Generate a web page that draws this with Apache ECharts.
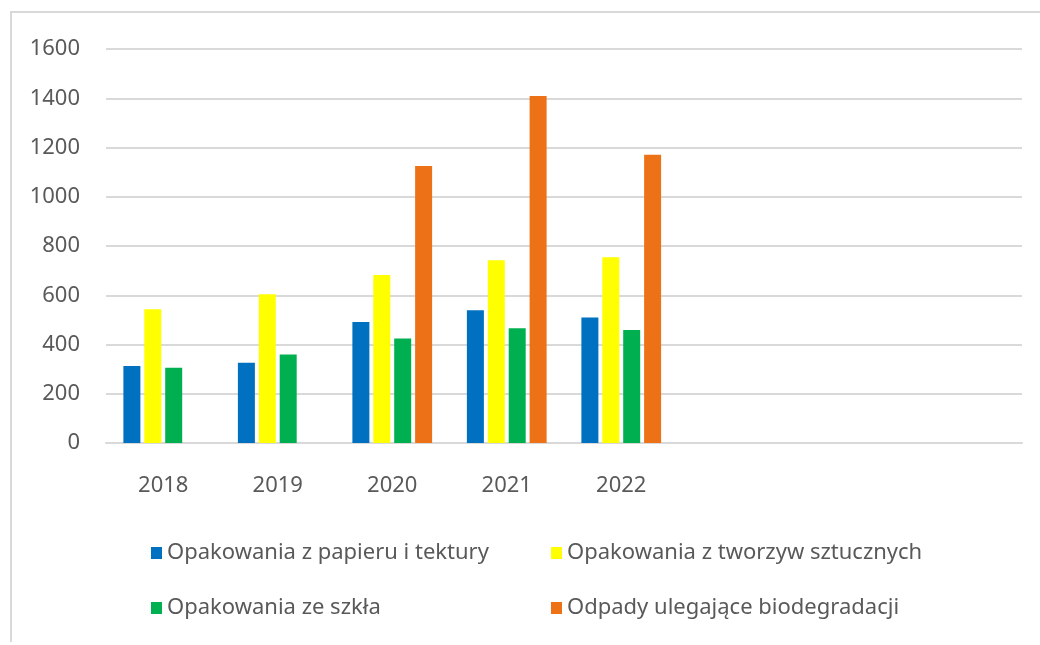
<!DOCTYPE html>
<html>
<head>
<meta charset="utf-8">
<script src="https://cdn.jsdelivr.net/npm/echarts@6/dist/echarts.min.js"></script>
<style>
html,body{margin:0;padding:0;background:#fff;}
#c{width:1040px;height:645px;}
</style>
</head>
<body>
<div id="c"></div>
<script>
const categories = ['2018', '2019', '2020', '2021', '2022', '', '', ''];
const seriesNames = [
  'Opakowania z papieru i tektury',
  'Opakowania z tworzyw sztucznych',
  'Opakowania ze szkła',
  'Odpady ulegające biodegradacji'
];
const paper = [313, 326, 491, 539, 510];
const plastic = [543, 604, 682, 742, 754];
const glass = [306, 359, 424, 466, 459];
const bio = [null, null, 1125, 1409, 1171];
const yTicks = [0, 200, 400, 600, 800, 1000, 1200, 1400, 1600];

const colors = ['#0070C0', '#FFFF00', '#00B050', '#ED7117'];
const FONT = '"Noto Sans", "Open Sans", sans-serif';
const txt = '#595959';

const chart = echarts.init(document.getElementById('c'), null, {renderer: 'canvas'});
const allData = [paper, plastic, glass, bio];
const legendText = {color: txt, fontSize: 22, fontFamily: FONT};
chart.setOption({
  animation: false,
  backgroundColor: '#fff',
  color: colors,
  graphic: [
    {type: 'line', shape: {x1: 10, y1: 12, x2: 1040, y2: 12}, style: {stroke: '#d9d9d9', lineWidth: 2}},
    {type: 'line', shape: {x1: 11, y1: 12, x2: 11, y2: 642}, style: {stroke: '#d9d9d9', lineWidth: 2}}
  ],
  grid: {left: 106, right: 18, top: 49, bottom: 202, containLabel: false},
  legend: [
    {data: [seriesNames[0], seriesNames[2]], orient: 'vertical', left: 146, top: 537, itemGap: 33,
     itemWidth: 11, itemHeight: 12, textStyle: legendText, icon: 'rect', selectedMode: false},
    {data: [seriesNames[1], seriesNames[3]], orient: 'vertical', left: 546, top: 537, itemGap: 33,
     itemWidth: 11, itemHeight: 12, textStyle: legendText, icon: 'rect', selectedMode: false}
  ],
  xAxis: {
    type: 'category', data: categories,
    axisLine: {show: true, lineStyle: {color: '#d9d9d9', width: 2}},
    axisTick: {show: false},
    axisLabel: {color: txt, fontSize: 22, fontFamily: FONT, margin: 32, interval: 0}
  },
  yAxis: {
    type: 'value', min: yTicks[0], max: yTicks[yTicks.length - 1], interval: yTicks[1] - yTicks[0],
    axisLine: {show: false}, axisTick: {show: false},
    axisLabel: {color: txt, fontSize: 22, fontFamily: FONT, margin: 26, formatter: v => String(v)},
    splitLine: {lineStyle: {color: '#d9d9d9', width: 2}}
  },
  series: seriesNames.map((n, i) => ({
    name: n, type: 'bar', data: allData[i],
    barWidth: 17, barGap: '23%',
    itemStyle: {color: colors[i]}
  }))
});
</script>
</body>
</html>
